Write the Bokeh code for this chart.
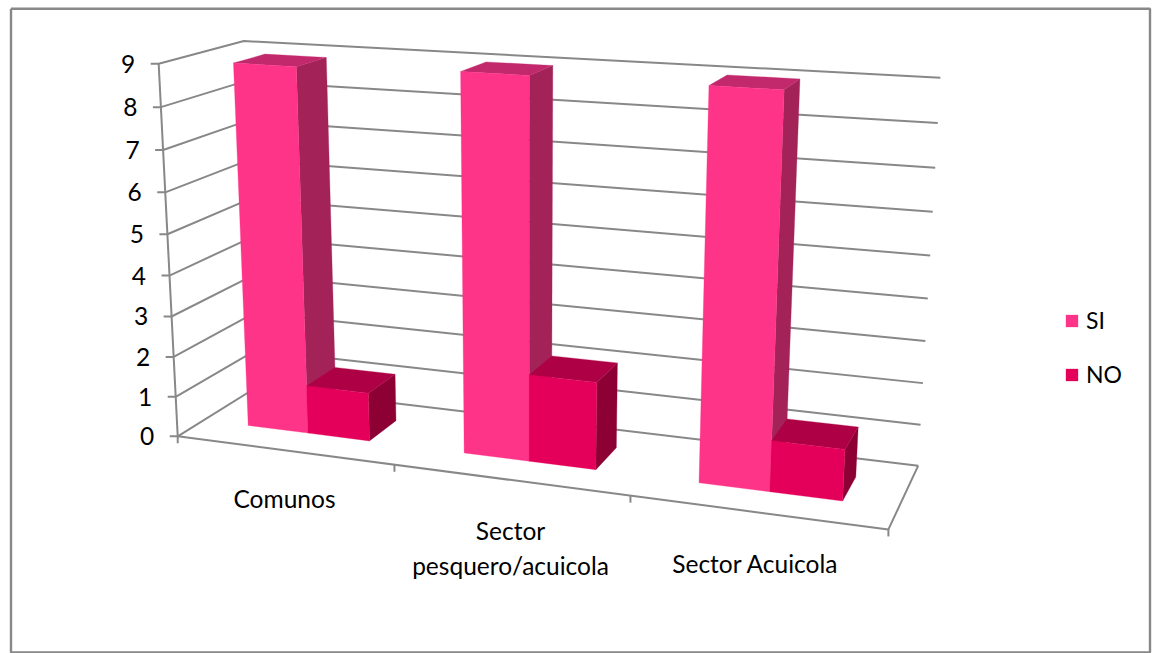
import numpy as np
from bokeh.plotting import figure
from bokeh.models import Legend, LegendItem
from bokeh.core.properties import value
from bokeh.embed import file_html
from bokeh.resources import INLINE

# ---- data ----
categories = ["Comunos", "Sector\npesquero/acuicola", "Sector Acuicola"]
si_values = [8.9, 9.0, 9.0]
no_values = [1.2, 2.1, 1.2]
tick_labels = ["0", "1", "2", "3", "4", "5", "6", "7", "8", "9"]
series_names = ["SI", "NO"]

# ---- layout / style ----
W, H = 1152, 653
FONT = "Lato"
FS = "24.5px"
GRID = "#888888"
STYLE = {"SI": ("#fe3488", "#a32358", "#c2296d"), "NO": ("#e4005a", "#8d0034", "#ae0044")}
label_pos = [(284, 497.5), (510, 547.5), (755, 562.5)]
GAP_WIDTH = 1.5
W0, W1 = 0.315, 0.70
VMAX = 9.0

# Camera of the 3D box: calibrated from where the box corners sit on the page
calib = [
    ((0, 0, 0), (178, 434.5)), ((0, 9, 0), (157, 64)), ((0, 0, 1), (255, 388)),
    ((0, 9, 1), (245, 41)), ((1, 9, 1), (940, 77)), ((1, 0, 1), (918, 463)),
    ((1, 0, 0), (887, 530)), ((1 / 3, 0, 0), (395, 465)), ((2 / 3, 0, 0), (630, 497)),
    ((0, 5, 0), (166.5, 232)), ((0, 2, 0), (174.5, 355)), ((0, 8, 0), (159.5, 107)),
]
A = []
for (u, v, w), (x, y) in calib:
    X = [u, v / VMAX, w, 1]
    A.append(X + [0, 0, 0, 0] + [-x * c for c in X])
    A.append([0, 0, 0, 0] + X + [-y * c for c in X])
P = np.linalg.svd(np.array(A, float))[2][-1].reshape(3, 4)


def proj(u, v, w):
    q = P @ np.array([u, v / VMAX, w, 1.0])
    return q[0] / q[2], q[1] / q[2]


def poly(pts):
    xy = [proj(*pt) for pt in pts]
    return [a for a, _ in xy], [b for _, b in xy]


p = figure(width=W, height=H, x_range=(0, W), y_range=(H, 0), output_backend="svg",
           toolbar_location=None, min_border=0, outline_line_color=None, background_fill_color="white",
           border_fill_color="white")
p.xaxis.visible = False
p.yaxis.visible = False
p.grid.visible = False

# outer frame
p.line([10.5, 1149.5, 1149.5, 10.5, 10.5], [8.2, 8.2, 652, 652, 8.2], line_color=GRID, line_width=2.4)

# walls' gridlines
for lab in tick_labels:
    v = float(lab)
    xs, ys = poly([(0, v, 0), (0, v, 1), (1, v, 1)])
    x0, y0 = xs[0], ys[0]
    p.line([x0 - 8] + xs, [y0] + ys, line_color=GRID, line_width=2)
    p.text([x0 - 23.5], [y0], text=[lab], text_font=value(FONT), text_font_size=FS,
           text_align="right", text_baseline="middle", text_color="black")

# axis, floor edges and category ticks
xs, ys = poly([(0, 0, 0), (0, VMAX, 0)])
p.line(xs, ys, line_color=GRID, line_width=2)
xs, ys = poly([(0, 0, 0), (1, 0, 0), (1, 0, 1)])
p.line(xs, ys, line_color=GRID, line_width=2)
for i in range(len(categories) + 1):
    x0, y0 = proj(i / len(categories), 0, 0)
    p.line([x0, x0], [y0, y0 + 7], line_color=GRID, line_width=2)

# bars
ncat, nser = len(categories), len(series_names)
cw = 1 / ncat
bw = cw / (nser + GAP_WIDTH)
items = []
for s, (name, vals) in enumerate(zip(series_names, [si_values, no_values])):
    front, side, top = STYLE[name]
    F, R, T = ([], []), ([], []), ([], [])
    for i, val in enumerate(vals):
        u0 = (i + GAP_WIDTH / 2 / (nser + GAP_WIDTH)) * cw + s * bw
        u1 = u0 + bw
        for store, pts in (
            (R, [(u1, 0, W0), (u1, 0, W1), (u1, val, W1), (u1, val, W0)]),
            (T, [(u0, val, W0), (u1, val, W0), (u1, val, W1), (u0, val, W1)]),
            (F, [(u0, 0, W0), (u1, 0, W0), (u1, val, W0), (u0, val, W0)]),
        ):
            a, b = poly(pts)
            store[0].append(a)
            store[1].append(b)
    p.patches(R[0], R[1], fill_color=side, line_color=side, line_width=0.3)
    p.patches(T[0], T[1], fill_color=top, line_color=top, line_width=0.3)
    r = p.patches(F[0], F[1], fill_color=front, line_color=front, line_width=0.3)
    items.append(LegendItem(label=name, renderers=[r]))

# category labels
p.text([a for a, _ in label_pos], [b for _, b in label_pos], text=categories, text_font=value(FONT),
       text_font_size=FS, text_align="center", text_baseline="middle", text_color="black",
       text_line_height=1.2)

legend = Legend(items=items, location=(1064, H - 388), orientation="vertical",
                glyph_width=15, glyph_height=15, label_standoff=7, spacing=26, padding=0, margin=0,
                label_text_font=FONT, label_text_font_size="23px", label_text_color="black",
                border_line_color=None, background_fill_alpha=0, label_height=27)
p.add_layout(legend, "center")

open("out.html", "w").write(file_html(p, INLINE))
